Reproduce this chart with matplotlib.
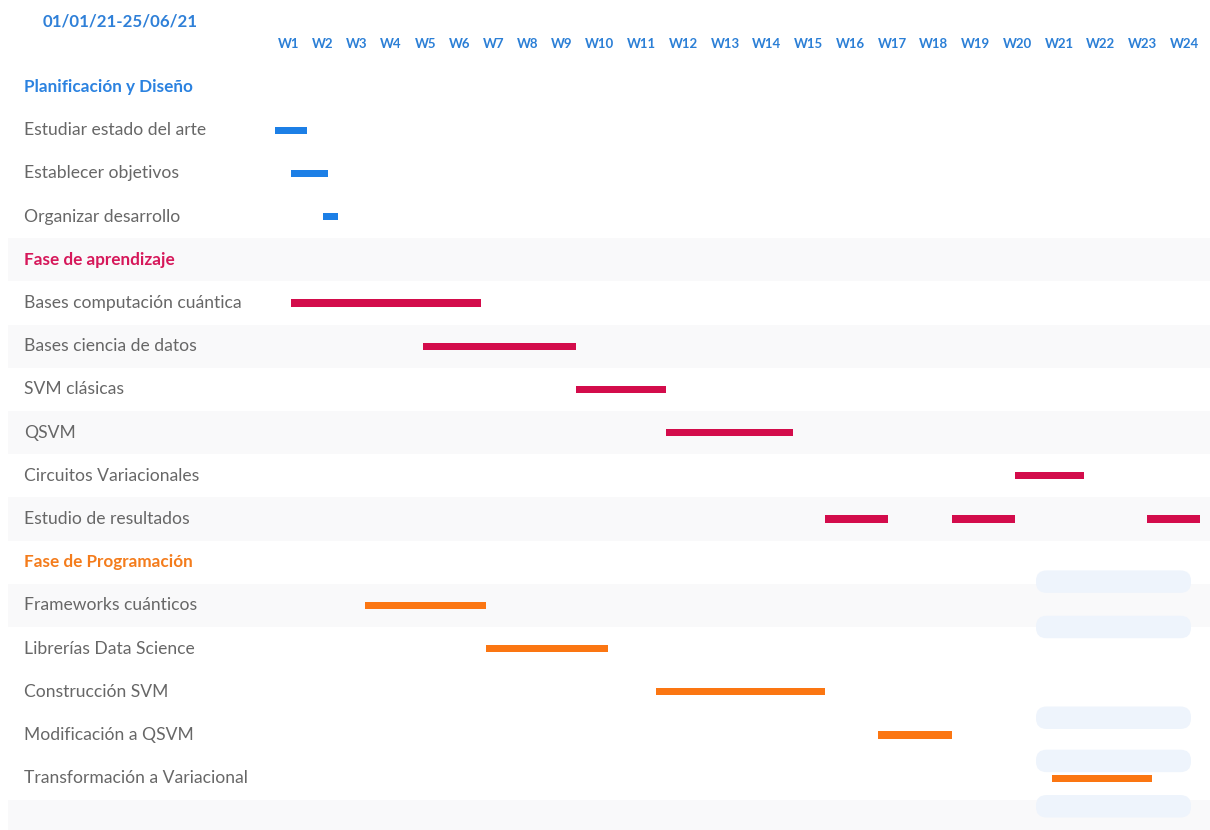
import matplotlib
matplotlib.use("Agg")
import matplotlib.pyplot as plt
from matplotlib.patches import FancyBboxPatch, Rectangle

# ---------------- data ----------------
period_label = "01/01/21-25/06/21"
total_days = 175
week_labels = ["W%d" % i for i in range(1, 25)]

phases = ["Planificación y Diseño", "Fase de aprendizaje", "Fase de Programación"]
phase_colors = ["#1c7fe6", "#d30c4b", "#fb7612"]
header_colors = ["#2b82e0", "#d6185a", "#f47c1c"]

plan_tasks = ["Estudiar estado del arte", "Establecer objetivos", "Organizar desarrollo"]
plan_segments = [[(0, 6)], [(3, 10)], [(9, 12)]]

learn_tasks = ["Bases computación cuántica", "Bases ciencia de datos", "SVM clásicas",
               "QSVM", "Circuitos Variacionales", "Estudio de resultados"]
learn_segments = [[(3, 39)], [(28, 57)], [(57, 74)], [(74, 98)], [(140, 153)],
                  [(104, 116), (128, 140), (165, 175)]]

prog_tasks = ["Frameworks cuánticos", "Librerías Data Science", "Construcción SVM",
              "Modificación a QSVM", "Transformación a Variacional"]
prog_segments = [[(17, 40)], [(40, 63)], [(72, 104)], [(114, 128)], [(147, 166)]]

groups = [(phases[0], plan_tasks, plan_segments),
          (phases[1], learn_tasks, learn_segments),
          (phases[2], prog_tasks, prog_segments)]

# ---------------- layout ----------------
W, H = 1210, 830
fig = plt.figure(figsize=(W / 100, H / 100), dpi=100)
ax = fig.add_axes([0, 0, 1, 1])
ax.set_axis_off()

X0_PX, X1_PX = 275, 1200          # chart time span in pixels
ROW0_PX, ROW_H = 87.0, 43.2       # first row centre, row height
ppd = (X1_PX - X0_PX) / total_days
ax.set_xlim(-X0_PX / ppd, (W - X0_PX) / ppd)
ax.set_ylim((H - ROW0_PX) / ROW_H, -ROW0_PX / ROW_H)

def px2x(px):
    return (px - X0_PX) / ppd

FONT = ["Lato", "DejaVu Sans"]
label_x = px2x(24)
text_grey = "#676767"

n_rows = sum(1 + len(t) for _, t, _ in groups)
shaded_rows = [4, 6, 8, 10, 12, n_rows]
for r in shaded_rows:
    ax.add_patch(Rectangle((px2x(8), r - 0.5), px2x(W) - px2x(8), 1.0,
                           facecolor="#f9f9fa", edgecolor="none", zorder=0))

# faint placeholder boxes at the right
box_rows = [11.45, 12.5, 14.6, 15.6, 16.65]
for br in box_rows:
    ax.add_patch(FancyBboxPatch((px2x(1036), br - 0.26), px2x(1191) - px2x(1036), 0.52,
                                boxstyle="round,pad=0,rounding_size=2.0",
                                mutation_aspect=0.12,
                                facecolor="#eef4fc", edgecolor="none", zorder=1))

row = 0
for gi, (phase, tasks, segs) in enumerate(groups):
    ax.text(label_x, row, phase, color=header_colors[gi], fontsize=12.3,
            fontweight="bold", family=FONT, va="center", ha="left")
    row += 1
    for task, seglist in zip(tasks, segs):
        ax.text(label_x, row, task, color=text_grey, fontsize=12.6,
                family=FONT, va="center", ha="left")
        starts = [s for s, e in seglist]
        widths = [e - s for s, e in seglist]
        ax.barh([row] * len(seglist), widths, left=starts, height=0.17,
                color=phase_colors[gi], edgecolor="none", zorder=3)
        row += 1

# title
ax.text(px2x(120), -1.52, period_label, color="#2f80d8", fontsize=12.2,
        fontweight="bold", family=FONT, va="center", ha="center")

# week labels laid out as a flowing row of text
fig.canvas.draw()
renderer = fig.canvas.get_renderer()
wk_texts = [ax.text(0, -1.0, w, color="#2b7fd6", fontsize=9.5, fontweight="bold",
                    family=FONT, va="center", ha="left") for w in week_labels]
widths_px = [t.get_window_extent(renderer).width for t in wk_texts]
left_px, right_px = 278, 1199
gap = (right_px - left_px - sum(widths_px)) / (len(week_labels) - 1)
cur = left_px
for t, wpx in zip(wk_texts, widths_px):
    t.set_x(px2x(cur))
    cur += wpx + gap

fig.savefig("out.png", dpi=100, facecolor="white")
